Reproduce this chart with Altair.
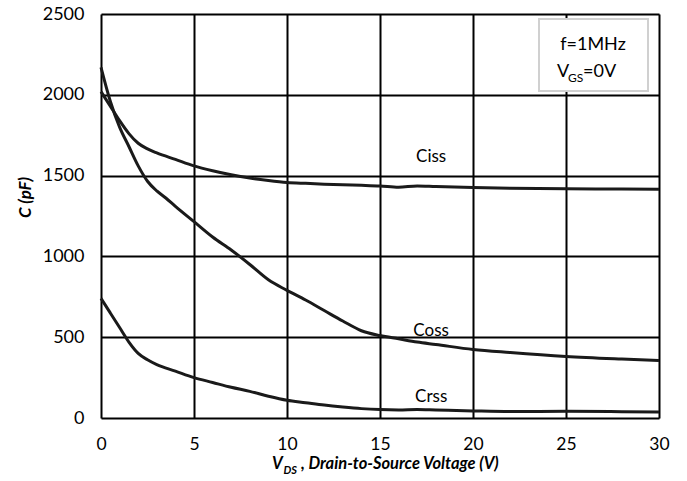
import altair as alt
import pandas as pd

# ---- data ----
v_ciss = [0, 0.5, 1, 1.5, 2, 2.5, 3, 4, 5, 6, 7, 8, 9, 10, 11, 12, 13, 14, 15, 16, 17, 18, 20, 22, 25, 28, 30]
c_ciss = [2020, 1930, 1840, 1760, 1700, 1665, 1640, 1600, 1560, 1530, 1505, 1485, 1470, 1458, 1452, 1447, 1443, 1440, 1436, 1428, 1436, 1432, 1426, 1422, 1418, 1417, 1415]

v_coss = [0, 0.5, 1, 1.5, 2, 2.5, 3, 3.5, 4, 5, 6, 7, 8, 9, 10, 11, 12, 13, 14, 15, 16, 17, 18, 20, 22, 25, 28, 30]
c_coss = [2170, 1960, 1800, 1680, 1560, 1465, 1405, 1360, 1310, 1215, 1120, 1040, 950, 855, 790, 730, 665, 600, 540, 510, 490, 470, 455, 424, 405, 381, 365, 356]

v_crss = [0, 0.5, 1, 1.5, 2, 2.5, 3, 4, 5, 6, 7, 8, 9, 10, 11, 12, 13, 14, 15, 16, 17, 18, 20, 22, 25, 28, 30]
c_crss = [740, 650, 560, 470, 400, 360, 330, 290, 250, 220, 190, 165, 135, 110, 95, 80, 68, 58, 52, 50, 53, 50, 44, 40, 41, 39, 37]

series_names = ["Ciss", "Coss", "Crss"]
label_v = [17.75, 17.75, 17.75]
label_c = [1583, 505, 96]

x_ticks = [0, 5, 10, 15, 20, 25, 30]
y_ticks = [0, 500, 1000, 1500, 2000, 2500]

FONT = "Lato"

rows = []
for name, vs, cs in zip(series_names, [v_ciss, v_coss, v_crss], [c_ciss, c_coss, c_crss]):
    for v, c in zip(vs, cs):
        rows.append({"series": name, "V": v, "C": c})
df = pd.DataFrame(rows)
labels_df = pd.DataFrame({"series": series_names, "V": label_v, "C": label_c})

W, H = 558, 404

x_scale = alt.Scale(domain=[0, 30], nice=False)
y_scale = alt.Scale(domain=[0, 2500], nice=False)

x_axis = alt.Axis(values=x_ticks, grid=True, gridColor="#000000", gridWidth=2, gridOpacity=1,
                  ticks=False, domain=False, labelFont=FONT, labelFontSize=17.5, labelColor="#000000",
                  labelPadding=17, labelFlush=False, format="d", title="")
y_axis = alt.Axis(values=y_ticks, grid=True, gridColor="#000000", gridWidth=2, gridOpacity=1,
                  ticks=False, domain=False, labelFont=FONT, labelFontSize=18, labelColor="#000000",
                  labelPadding=17, labelFlush=False, format="d", title="C (pF)", titleFont=FONT,
                  titleFontSize=17, titleFontWeight="bold", titleFontStyle="italic", titleColor="#000000",
                  titleAngle=-90, titleX=-76, titleY=183, titleBaseline="middle", titleAlign="center")

lines = alt.Chart(df).mark_line(color="#1a1a1a", strokeWidth=3, interpolate="monotone").encode(
    x=alt.X("V:Q", scale=x_scale, axis=x_axis),
    y=alt.Y("C:Q", scale=y_scale, axis=y_axis),
    detail="series:N",
)

labels = alt.Chart(labels_df).mark_text(font=FONT, fontSize=17, color="#000000",
                                        align="center", baseline="alphabetic").encode(
    x=alt.X("V:Q", scale=x_scale), y=alt.Y("C:Q", scale=y_scale), text="series:N")

# annotation box (top-right)
box = alt.Chart(pd.DataFrame({"a": [0]})).mark_rect(fill="white", stroke="#d0d0d0", strokeWidth=2).encode(
    x=alt.value(438), x2=alt.value(547), y=alt.value(5), y2=alt.value(77))

def txt(t, x, y, size=18, weight="normal", style="normal", align="left"):
    return alt.Chart(pd.DataFrame({"t": [t]})).mark_text(
        font=FONT, fontSize=size, fontWeight=weight, fontStyle=style, color="#000000",
        align=align, baseline="alphabetic").encode(x=alt.value(x), y=alt.value(y), text="t:N")

ann = [
    txt("f=1MHz", 492, 36, align="center"),
    txt("V", 456, 63),
    txt("GS", 467, 68, size=12),
    txt("=0V", 482, 63),
    # x axis title
    txt("V", 171, 454.5, size=16.5, weight="bold", style="italic"),
    txt("DS", 182.5, 459.5, size=11, weight="bold", style="italic"),
    txt(", Drain-to-Source Voltage (V)", 200, 454.5, size=16.5, weight="bold", style="italic"),
]

chart = alt.layer(lines, labels, box, *ann).properties(
    width=W, height=H,
    autosize=alt.AutoSizeParams(type="none"),
    padding={"left": 101, "top": 14, "right": 28, "bottom": 63},
).configure_view(stroke="#000000", strokeWidth=2).configure(background="white")

chart.save("out.html", embed_options={"renderer": "svg", "actions": False})
